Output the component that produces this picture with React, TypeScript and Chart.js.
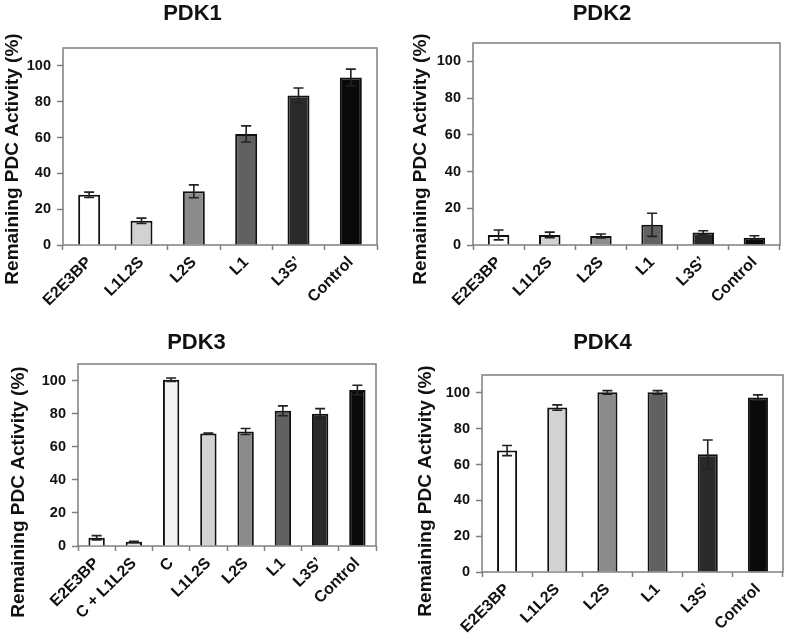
import React, { useEffect, useRef } from "react";
import { Chart, registerables } from "chart.js";

Chart.register(...registerables);

const sixLabels = ["E2E3BP", "L1L2S", "L2S", "L1", "L3S\u2019", "Control"];
const pdk3Labels = ["E2E3BP", "C + L1L2S", "C", "L1L2S", "L2S", "L1", "L3S\u2019", "Control"];

const pdk1Values = [28, 13.5, 30, 62, 83.5, 93.5];
const pdk1Errors = [1.5, 1.5, 3.6, 4.5, 4.2, 4.7];

const pdk2Values = [5.5, 5.5, 4.9, 11, 6.8, 4];
const pdk2Errors = [2.7, 1.5, 1.1, 6.3, 1, 1];

const pdk3Values = [5, 2.5, 100.5, 68, 69.2, 81.7, 80, 94.3];
const pdk3Errors = [1.3, 0.4, 1, 0.3, 1.8, 3, 3, 2.9];

const pdk4Values = [67.8, 91.8, 100.3, 100.3, 65.7, 97.4];
const pdk4Errors = [2.8, 1.5, 1, 1, 8, 1.5];

const sixColors = ["#ffffff", "#d2d2d2", "#8b8b8b", "#616161", "#2a2a2a", "#0a0a0a"];
const pdk3Colors = ["#ffffff", "#e6e6e6", "#f2f2f2", "#d2d2d2", "#8b8b8b", "#616161", "#2a2a2a", "#0a0a0a"];

const yTickValues = [0, 20, 40, 60, 80, 100];
const yMax = 110;
const yTitle = "Remaining PDC Activity (%)";

const FONT = '"Liberation Sans", Arial, Helvetica, sans-serif';

const errorBarPlugin = {
  id: "errorBars",
  afterDatasetsDraw(chart: any, _args: any, opts: any) {
    const meta = chart.getDatasetMeta(0);
    const ys = chart.scales.y;
    const data = chart.data.datasets[0].data as number[];
    const ctx = chart.ctx;
    ctx.save();
    ctx.strokeStyle = "#222222";
    ctx.lineWidth = 1.6;
    meta.data.forEach((bar: any, i: number) => {
      const v = data[i];
      const e = opts.errors[i];
      const x = bar.x;
      const yTop = ys.getPixelForValue(v + e);
      const yBot = ys.getPixelForValue(Math.max(0, v - e));
      const hw = opts.cap;
      ctx.beginPath();
      ctx.moveTo(x, yTop);
      ctx.lineTo(x, yBot);
      ctx.moveTo(x - hw, yTop);
      ctx.lineTo(x + hw, yTop);
      ctx.moveTo(x - hw, yBot);
      ctx.lineTo(x + hw, yBot);
      ctx.stroke();
    });
    ctx.restore();
  },
};

const framePlugin = {
  id: "frame",
  beforeDatasetsDraw(chart: any) {
    const { left, top, right, bottom } = chart.chartArea;
    const ctx = chart.ctx;
    ctx.save();
    ctx.strokeStyle = "#7f7f7f";
    ctx.lineWidth = 1.5;
    ctx.strokeRect(left, top, right - left, bottom - top);
    ctx.restore();
  },
};

const yLabelPlugin = {
  id: "yLabel",
  afterDraw(chart: any, _args: any, opts: any) {
    const ctx = chart.ctx;
    ctx.save();
    ctx.translate(opts.x, opts.y);
    ctx.rotate(-Math.PI / 2);
    ctx.font = `bold ${opts.size}px ${FONT}`;
    ctx.textAlign = "center";
    ctx.textBaseline = "middle";
    ctx.fillStyle = "#111111";
    ctx.fillText(opts.text, 0, 0);
    ctx.restore();
  },
};

type PanelProps = {
  title: string;
  labels: string[];
  values: number[];
  errors: number[];
  colors: string[];
  left: number;
  top: number;
  width: number;
  height: number;
  padL: number;
  padR: number;
  yWidth: number;
  xHeight: number;
  titleTop: number;
  titleBottom: number;
  barPct: number;
  labelX: number;
  labelY: number;
};

function Panel(p: PanelProps) {
  const ref = useRef<HTMLCanvasElement | null>(null);
  useEffect(() => {
    if (!ref.current) return;
    const chart = new Chart(ref.current, {
      type: "bar",
      data: {
        labels: p.labels,
        datasets: [
          {
            data: p.values,
            backgroundColor: p.colors,
            borderColor: "#111111",
            borderWidth: 2,
            barPercentage: p.barPct,
            categoryPercentage: 1,
          },
        ],
      },
      plugins: [framePlugin, errorBarPlugin, yLabelPlugin],
      options: {
        responsive: false,
        animation: false,
        devicePixelRatio: 1,
        layout: { padding: { left: p.padL, right: p.padR, top: 0, bottom: 0 } },
        plugins: {
          legend: { display: false },
          tooltip: { enabled: false },
          title: {
            display: true,
            text: p.title,
            color: "#111111",
            font: { family: FONT, size: 22, weight: "bold", lineHeight: 1.2 },
            padding: { top: p.titleTop, bottom: p.titleBottom },
          },
          errorBars: { errors: p.errors, cap: 5 },
          yLabel: { text: yTitle, x: p.labelX, y: p.labelY, size: 19 },
        } as any,
        scales: {
          x: {
            border: { display: false },
            grid: {
              display: true,
              drawOnChartArea: false,
              drawTicks: true,
              tickLength: 5,
              tickColor: "#7f7f7f",
              tickWidth: 1.5,
              offset: true,
            },
            ticks: {
              minRotation: 45,
              maxRotation: 45,
              autoSkip: false,
              padding: 3,
              color: "#111111",
              font: { family: FONT, size: 16, weight: "bold" },
            },
            afterFit: (scale: any) => {
              scale.height = p.xHeight;
            },
          },
          y: {
            min: 0,
            max: yMax,
            border: { display: false },
            grid: {
              display: true,
              drawOnChartArea: false,
              drawTicks: true,
              tickLength: 6,
              tickColor: "#7f7f7f",
              tickWidth: 1.5,
            },
            ticks: {
              stepSize: 20,
              padding: 6,
              color: "#111111",
              font: { family: FONT, size: 14.5, weight: "bold" },
            },
            afterBuildTicks: (scale: any) => {
              scale.ticks = yTickValues.map((v) => ({ value: v }));
            },
            afterFit: (scale: any) => {
              scale.width = p.yWidth;
            },
          },
        },
      } as any,
    });
    return () => chart.destroy();
  }, []);
  return (
    <div style={{ position: "absolute", left: p.left, top: p.top, width: p.width, height: p.height }}>
      <canvas ref={ref} width={p.width} height={p.height} style={{ width: p.width, height: p.height, display: "block" }} />
    </div>
  );
}

export default function App() {
  return (
    <div style={{ position: "fixed", left: 0, top: 0, width: 787, height: 641, background: "#ffffff", overflow: "hidden" }}>
      <Panel
        title="PDK1"
        labels={sixLabels}
        values={pdk1Values}
        errors={pdk1Errors}
        colors={sixColors}
        left={0}
        top={0}
        width={393}
        height={320}
        padL={8}
        padR={16}
        yWidth={55}
        xHeight={75}
        titleTop={1}
        titleBottom={20.6}
        barPct={0.42}
        labelX={13}
        labelY={159}
      />
      <Panel
        title="PDK2"
        labels={sixLabels}
        values={pdk2Values}
        errors={pdk2Errors}
        colors={sixColors}
        left={400}
        top={0}
        width={387}
        height={320}
        padL={24}
        padR={7}
        yWidth={49}
        xHeight={75}
        titleTop={1}
        titleBottom={15.6}
        barPct={0.42}
        labelX={21}
        labelY={159}
      />
      <Panel
        title="PDK3"
        labels={pdk3Labels}
        values={pdk3Values}
        errors={pdk3Errors}
        colors={pdk3Colors}
        left={0}
        top={320}
        width={393}
        height={321}
        padL={17}
        padR={17}
        yWidth={61}
        xHeight={95}
        titleTop={9.8}
        titleBottom={7.8}
        barPct={0.44}
        labelX={19}
        labelY={172}
      />
      <Panel
        title="PDK4"
        labels={sixLabels}
        values={pdk4Values}
        errors={pdk4Errors}
        colors={sixColors}
        left={400}
        top={320}
        width={387}
        height={321}
        padL={22}
        padR={4}
        yWidth={60}
        xHeight={69}
        titleTop={9.8}
        titleBottom={18.8}
        barPct={0.4}
        labelX={26}
        labelY={171}
      />
    </div>
  );
}
